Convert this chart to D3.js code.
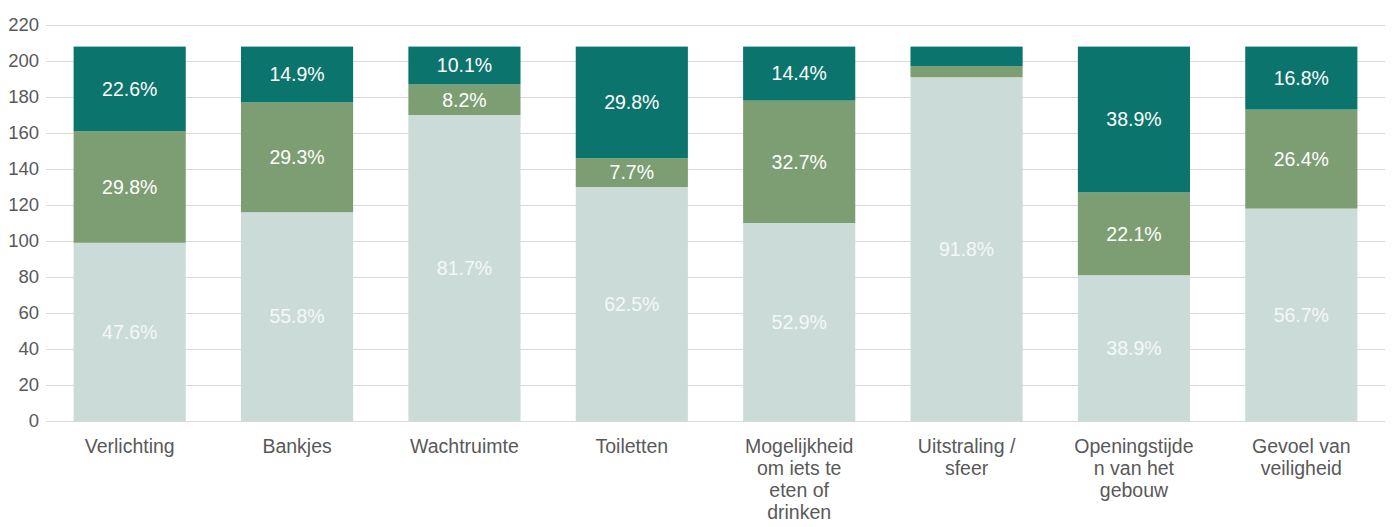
<!DOCTYPE html>
<html>
<head>
<meta charset="utf-8">
<script src="https://cdn.jsdelivr.net/npm/d3@7"></script>
<style>
  body { margin: 0; background: #fff; }
  #chart text { font-family: "Liberation Sans", Arial, sans-serif; }
</style>
</head>
<body>
<div id="chart"></div>
<script>
// categories (label lines as they wrap in the picture)
const categories = ["Verlichting", "Bankjes", "Wachtruimte", "Toiletten", "Mogelijkheid om iets te eten of drinken", "Uitstraling / sfeer", "Openingstijden van het gebouw", "Gevoel van veiligheid"];
const categoryLines = [
  ["Verlichting"], ["Bankjes"], ["Wachtruimte"], ["Toiletten"],
  ["Mogelijkheid", "om iets te", "eten of", "drinken"],
  ["Uitstraling /", "sfeer"],
  ["Openingstijde", "n van het", "gebouw"],
  ["Gevoel van", "veiligheid"]
];
// counts per segment (bottom, middle, top), total 208 each
const bottomValues = [99, 116, 170, 130, 110, 191, 81, 118];
const middleValues = [62, 61, 17, 16, 68, 6, 46, 55];
const topValues    = [47, 31, 21, 62, 30, 11, 81, 35];
const yTicks = [0, 20, 40, 60, 80, 100, 120, 140, 160, 180, 200, 220];

const seriesKeys = ["bottom", "middle", "top"];
const colors = {bottom: "#cbdcd8", middle: "#7d9e72", top: "#0b746c"};

const margin = {top: 25, right: 9, bottom: 106, left: 46},
    width = 1394 - margin.left - margin.right,
    height = 527 - margin.top - margin.bottom;

const svg = d3.select("#chart")
  .append("svg")
    .attr("width", 1394)
    .attr("height", 527)
  .append("g")
    .attr("transform", `translate(${margin.left}, ${margin.top})`);

const data = categories.map((c, i) => ({
  cat: c,
  bottom: bottomValues[i], middle: middleValues[i], top: topValues[i],
  total: bottomValues[i] + middleValues[i] + topValues[i]
}));

const x = d3.scaleBand()
  .domain(categories)
  .range([0, width])
  .paddingInner(0.33)
  .paddingOuter(0.165);

const y = d3.scaleLinear()
  .domain([0, 220])
  .range([height, 0]);

// gridlines
svg.append("g")
  .selectAll("line")
  .data(yTicks)
  .join("line")
    .attr("x1", 0)
    .attr("x2", width)
    .attr("y1", d => y(d) + 0.5)
    .attr("y2", d => y(d) + 0.5)
    .attr("stroke", "#d9d9d9")
    .attr("stroke-width", 1);

// y axis
const yAxis = svg.append("g")
  .call(d3.axisLeft(y).tickValues(yTicks).tickSize(0).tickPadding(7));
yAxis.select(".domain").remove();
yAxis.selectAll("text")
  .style("font-size", "18.5px")
  .attr("fill", "#595959");

// stacked bars
const stacked = d3.stack().keys(seriesKeys)(data);

const layers = svg.selectAll(".layer")
  .data(stacked)
  .join("g")
    .attr("class", "layer")
    .attr("fill", d => colors[d.key]);

layers.selectAll("rect")
  .data(d => d)
  .join("rect")
    .attr("x", d => x(d.data.cat))
    .attr("y", d => y(d[1]))
    .attr("width", x.bandwidth())
    .attr("height", d => y(d[0]) - y(d[1]));

// percentage labels
stacked.forEach(layer => {
  svg.append("g")
    .selectAll("text")
    .data(layer.filter(d => d[1] - d[0] >= 14))
    .join("text")
      .attr("x", d => x(d.data.cat) + x.bandwidth() / 2)
      .attr("y", d => y((d[0] + d[1]) / 2))
      .attr("dy", "0.35em")
      .attr("text-anchor", "middle")
      .style("font-size", "19.5px")
      .attr("fill", layer.key === "bottom" ? "#f4f8f7" : "#ffffff")
      .text(d => ((d[1] - d[0]) / d.data.total * 100).toFixed(1) + "%");
});

// category labels
categories.forEach((c, i) => {
  const t = svg.append("text")
    .attr("x", x(c) + x.bandwidth() / 2)
    .attr("y", height + 32)
    .attr("text-anchor", "middle")
    .style("font-size", "19.5px")
    .attr("fill", "#595959");
  categoryLines[i].forEach((line, j) => {
    t.append("tspan")
      .attr("x", x(c) + x.bandwidth() / 2)
      .attr("dy", j === 0 ? 0 : 22)
      .text(line);
  });
});
</script>
</body>
</html>
